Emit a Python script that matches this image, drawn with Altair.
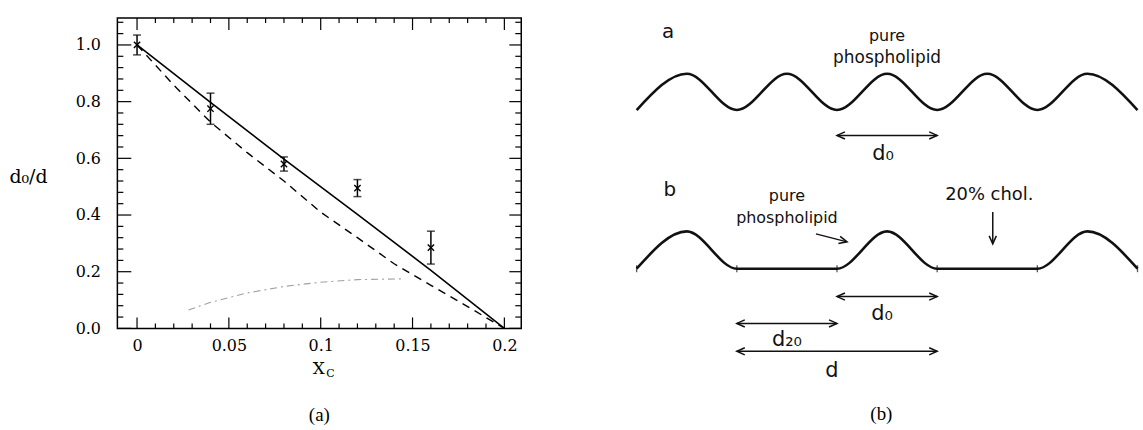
import altair as alt
import pandas as pd

# ---------------- panel (a): d0/d versus cholesterol fraction ----------------
xc_points = [0.0, 0.04, 0.08, 0.12, 0.16]
ratio_points = [1.0, 0.775, 0.58, 0.495, 0.285]
ratio_err = [0.035, 0.055, 0.025, 0.03, 0.058]

solid_x = [0.0, 0.04, 0.08, 0.12, 0.16, 0.2]
solid_y = [1.0, 0.797, 0.597, 0.402, 0.205, 0.0]

dashed_x = [0.0, 0.02, 0.04, 0.06, 0.08, 0.10, 0.12, 0.14, 0.16, 0.18, 0.2]
dashed_y = [1.0, 0.858, 0.728, 0.62, 0.52, 0.41, 0.32, 0.228, 0.152, 0.077, 0.0]

dotdash_x = [0.028, 0.04, 0.06, 0.08, 0.10, 0.12, 0.145]
dotdash_y = [0.065, 0.092, 0.125, 0.148, 0.163, 0.172, 0.175]

x_major = [0.0, 0.05, 0.1, 0.15, 0.2]
x_minor = [0.01, 0.02, 0.03, 0.04, 0.06, 0.07, 0.08, 0.09,
           0.11, 0.12, 0.13, 0.14, 0.16, 0.17, 0.18, 0.19]
y_major = [0.0, 0.2, 0.4, 0.6, 0.8, 1.0]
y_minor = [0.04, 0.08, 0.12, 0.16, 0.24, 0.28, 0.32, 0.36, 0.44, 0.48, 0.52,
           0.56, 0.64, 0.68, 0.72, 0.76, 0.84, 0.88, 0.92, 0.96, 1.04, 1.08]

W_A, H_A = 406, 312
SERIF = "DejaVu Serif"

xscale = alt.Scale(domain=[-0.0107, 0.2092], nice=False, zero=False)
yscale = alt.Scale(domain=[0, 1.095], nice=False, zero=False)

x_axis = alt.Axis(values=x_major, format="~g", ticks=False, domain=False, grid=False,
                  labelFont=SERIF, labelFontSize=16, labelColor="black", labelPadding=9,
                  title="X", titleFont=SERIF, titleFontSize=17, titleFontWeight="normal",
                  titleColor="black", titleX=202, titleY=40, titleAlign="center",
                  titleBaseline="middle")
y_axis = alt.Axis(values=y_major, format=".1f", ticks=False, domain=False, grid=False,
                  labelFont=SERIF, labelFontSize=16, labelColor="black", labelPadding=17,
                  title="d₀/d", titleFont=SERIF, titleFontSize=19, titleFontWeight="normal",
                  titleColor="black", titleAngle=0, titleAlign="left", titleBaseline="middle",
                  titleX=-109, titleY=159)


def ax(field):
    return alt.X(field, scale=xscale, axis=x_axis)


def ay(field):
    return alt.Y(field, scale=yscale, axis=y_axis)


def line_layer(xs, ys, **style):
    df = pd.DataFrame({"x": xs, "y": ys})
    return alt.Chart(df).mark_line(**style).encode(x=ax("x:Q"), y=ay("y:Q"))


solid_line = line_layer(solid_x, solid_y, color="black", strokeWidth=1.6)
dashed_line = line_layer(dashed_x, dashed_y, color="black", strokeWidth=1.4, strokeDash=[8, 6])
dotdash_line = line_layer(dotdash_x, dotdash_y, color="#a0a0a0", strokeWidth=1.1,
                          strokeDash=[7, 4, 2, 4])

pts = pd.DataFrame({
    "x": xc_points,
    "y": ratio_points,
    "lo": [v - e for v, e in zip(ratio_points, ratio_err)],
    "hi": [v + e for v, e in zip(ratio_points, ratio_err)],
})
err_rules = alt.Chart(pts).mark_rule(color="black", strokeWidth=1.5).encode(
    x=ax("x:Q"), y=ay("lo:Q"), y2="hi:Q")
caps = pd.DataFrame({"x": xc_points * 2, "y": list(pts["lo"]) + list(pts["hi"])})
err_caps = alt.Chart(caps).mark_tick(orient="horizontal", size=8, thickness=1.5,
                                     color="black").encode(x=ax("x:Q"), y=ay("y:Q"))
markers = alt.Chart(pts).mark_point(shape="M-1,-1L1,1M-1,1L1,-1", size=40, filled=False,
                                    color="black", strokeWidth=1.4, opacity=1).encode(
    x=ax("x:Q"), y=ay("y:Q"))


def x_ticks(values, side, length):
    df = pd.DataFrame({"v": values})
    if side == "bottom":
        ends = dict(y=alt.value(H_A), y2=alt.value(H_A - length))
    else:
        ends = dict(y=alt.value(0), y2=alt.value(length))
    return alt.Chart(df).mark_rule(color="black", strokeWidth=1.2).encode(x=ax("v:Q"), **ends)


def y_ticks(values, side, length):
    df = pd.DataFrame({"v": values})
    if side == "left":
        ends = dict(x=alt.value(0), x2=alt.value(length))
    else:
        ends = dict(x=alt.value(W_A), x2=alt.value(W_A - length))
    return alt.Chart(df).mark_rule(color="black", strokeWidth=1.2).encode(y=ay("v:Q"), **ends)


tick_layers = [
    x_ticks(x_major, "bottom", 11), x_ticks(x_minor, "bottom", 5),
    x_ticks(x_major, "top", 12), x_ticks(x_minor, "top", 5),
    y_ticks(y_major, "left", 14), y_ticks(y_minor, "left", 6),
    y_ticks(y_major, "right", 12), y_ticks(y_minor, "right", 6),
]

# subscript of the x-axis title
sub_c = alt.Chart(pd.DataFrame({"t": ["C"]})).mark_text(
    font=SERIF, fontSize=11, color="black", align="left", baseline="middle").encode(
    text="t:N", x=alt.value(210), y=alt.value(358))

panel_a = alt.layer(
    solid_line, dashed_line, dotdash_line, err_rules, err_caps, markers, sub_c, *tick_layers
).properties(
    width=W_A, height=H_A,
    view=alt.ViewBackground(stroke="black", strokeWidth=1.5, strokeOpacity=1),
    title=alt.TitleParams("(a)", orient="bottom", frame="group", anchor="middle",
                          font="Liberation Serif", fontSize=19, fontWeight="normal",
                          color="black", offset=27),
)

# ---------------- panel (b): bilayer profile sketches ----------------
# x in units of the pure-phospholipid repeat d0, y in diagram units measured downward
wave_a_x = [0, 0.5, 1, 1.5, 2, 2.5, 3, 3.5, 4, 4.5, 5]
wave_a_y = [92.5, 56, 92.5, 56, 92.5, 56, 92.5, 56, 92.5, 56, 92.5]
wave_b_x = [0, 0.5, 1, 2, 2.5, 3, 4, 4.5, 5]
wave_b_y = [252, 214.5, 252, 252, 214.5, 252, 252, 214.5, 252]
joint_x = [0, 1, 2, 3, 4, 5]
joint_y = [252, 252, 252, 252, 252, 252]

arrow_x0 = [2.0, 1.79, 3.555, 2.0, 1.0, 1.0]
arrow_x1 = [3.0, 2.10, 3.555, 3.0, 2.0, 3.0]
arrow_y0 = [118, 217, 195, 280, 307, 335]
arrow_y1 = [118, 225, 227, 280, 307, 335]
arrow_angle = [0, 14, 90, 0, 0, 0]
arrow_both = [True, False, False, True, True, True]

label_text = ["a", "pure", "phospholipid", "d₀", "b", "pure", "phospholipid",
              "20% chol.", "d₀", "d₂₀", "d"]
label_x = [0.313, 2.5, 2.5, 2.46, 0.33, 1.5, 1.5, 3.52, 2.45, 1.5, 1.95]
label_y = [14, 18, 40, 137, 173, 179, 201, 178, 298, 324, 355]
label_size = [20, 16, 17, 21, 20, 16, 16, 18, 21, 21, 21]

W_B, H_B = 520, 370
SANS = "DejaVu Sans"
bx = alt.Scale(domain=[-0.139, 5.025], nice=False, zero=False)
by = alt.Scale(domain=[0, H_B], reverse=True, nice=False, zero=False)

waves = pd.DataFrame({
    "x": wave_a_x + wave_b_x,
    "y": wave_a_y + wave_b_y,
    "wave": ["a"] * len(wave_a_x) + ["b"] * len(wave_b_x),
})
wave_lines = alt.Chart(waves).mark_line(color="#111111", strokeWidth=2.6,
                                        interpolate="monotone").encode(
    x=alt.X("x:Q", scale=bx, axis=None),
    y=alt.Y("y:Q", scale=by, axis=None),
    detail="wave:N",
)
joints = alt.Chart(pd.DataFrame({"x": joint_x, "y": joint_y})).mark_tick(
    orient="vertical", size=7, thickness=1.3, color="#111111").encode(
    x=alt.X("x:Q", scale=bx, axis=None),
    y=alt.Y("y:Q", scale=by, axis=None),
)

arrows = pd.DataFrame({"x0": arrow_x0, "x1": arrow_x1, "y0": arrow_y0, "y1": arrow_y1})
shafts = alt.Chart(arrows).mark_rule(color="#111111", strokeWidth=1.5).encode(
    x=alt.X("x0:Q", scale=bx, axis=None), x2="x1:Q",
    y=alt.Y("y0:Q", scale=by, axis=None), y2="y1:Q",
)
head_rows = []
for x0, x1, y0, y1, ang, both in zip(arrow_x0, arrow_x1, arrow_y0, arrow_y1,
                                     arrow_angle, arrow_both):
    head_rows.append({"x": x1, "y": y1, "angle": ang})
    if both:
        head_rows.append({"x": x0, "y": y0, "angle": (ang + 180) % 360})
heads = alt.Chart(pd.DataFrame(head_rows)).mark_point(
    shape="M-1,-0.45L0,0L-1,0.45", size=256, filled=False, color="#111111",
    strokeWidth=1.5, opacity=1).encode(
    x=alt.X("x:Q", scale=bx, axis=None),
    y=alt.Y("y:Q", scale=by, axis=None),
    angle=alt.Angle("angle:Q", scale=None),
)

labels = pd.DataFrame({"t": label_text, "x": label_x, "y": label_y, "s": label_size})
label_marks = alt.Chart(labels).mark_text(font=SANS, color="#111111", align="center",
                                          baseline="middle").encode(
    x=alt.X("x:Q", scale=bx, axis=None),
    y=alt.Y("y:Q", scale=by, axis=None),
    text="t:N",
    size=alt.Size("s:Q", scale=None),
)

panel_b = alt.layer(wave_lines, joints, shafts, heads, label_marks).properties(
    width=W_B, height=H_B,
    title=alt.TitleParams("(b)", orient="bottom", frame="group", anchor="middle",
                          font="Liberation Serif", fontSize=19, fontWeight="normal",
                          color="black", offset=19),
)

chart = alt.hconcat(panel_a, panel_b, spacing=100).properties(
    padding={"left": 8, "top": 15, "right": 0, "bottom": 0},
    background="white",
).configure_view(strokeOpacity=0)

chart.save("out.html", embed_options={"renderer": "svg", "actions": False})
